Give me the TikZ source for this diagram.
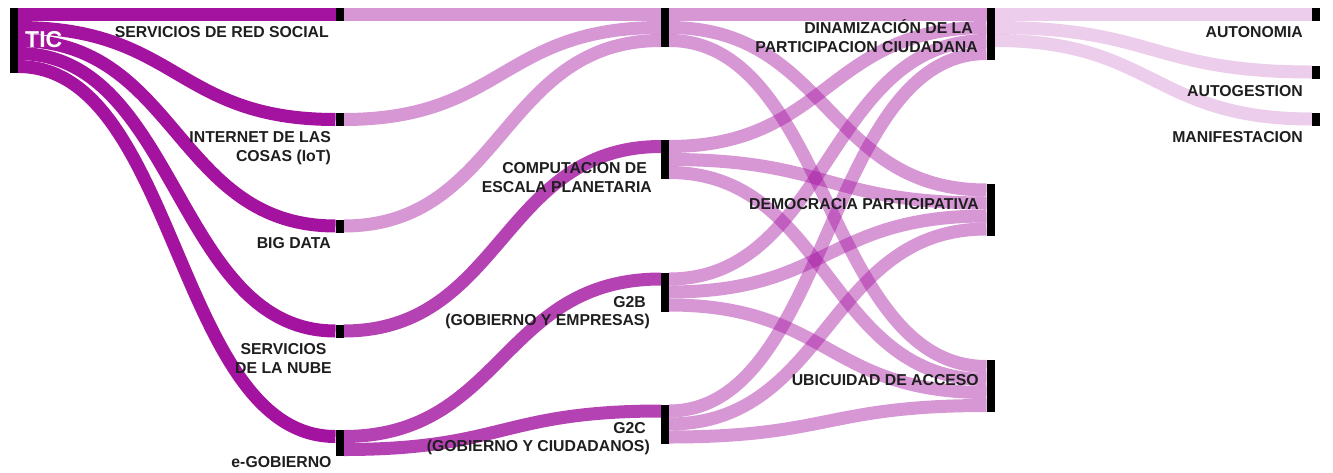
\documentclass[tikz,border=0pt]{standalone}
\usepackage{fontspec}
\setmainfont{Liberation Sans}
\usetikzlibrary{calc}
\definecolor{flowc}{RGB}{163,19,160}
\definecolor{txt}{RGB}{30,30,30}
\tikzset{
 bar/.style={rectangle, fill=black, draw=none, minimum width=8pt, inner sep=0pt, outer sep=0pt, anchor=north west},
 band/.style={line width=13pt, draw=flowc},
 dark/.style={band},
 mid/.style={band, draw opacity=0.8},
 light/.style={band, draw opacity=0.44},
 pale/.style={band, draw opacity=0.21},
 lbl/.style={font=\fontsize{15.8}{18}\selectfont\bfseries, text=txt, inner sep=0pt, anchor=base east},
 lblc/.style={lbl, anchor=base},
}
\newcommand\flowband[5]{\draw[#1] ($(#2.north east)+(0,#3)$) .. controls +(160,0) and +(-160,0) .. ($(#4.north west)+(0,#5)$);}
\begin{document}
\begin{tikzpicture}[x=1pt,y=-1pt]
\useasboundingbox (0,0) rectangle (1333,472);
% bars
\node[bar, minimum height=65pt] (TIC) at (10,8) {};
\node[bar, minimum height=13pt] (RS) at (335.5,8) {};
\node[bar, minimum height=13pt] (IOT) at (335.5,113) {};
\node[bar, minimum height=13pt] (BD) at (335.5,219.5) {};
\node[bar, minimum height=13pt] (NUBE) at (335.5,324.5) {};
\node[bar, minimum height=26pt] (EGOB) at (335.5,430) {};
\node[bar, minimum height=39pt] (T) at (661,8) {};
\node[bar, minimum height=39pt] (COMP) at (661,140) {};
\node[bar, minimum height=39pt] (G2B) at (661,272.5) {};
\node[bar, minimum height=39pt] (G2C) at (661,404.5) {};
\node[bar, minimum height=52pt] (DIN) at (986.5,8) {};
\node[bar, minimum height=52pt] (DEMO) at (986.5,183.5) {};
\node[bar, minimum height=52pt] (UBIC) at (986.5,360) {};
\node[bar, minimum height=13pt] (AUTO) at (1312,8) {};
\node[bar, minimum height=13pt] (AUTOG) at (1312,65.5) {};
\node[bar, minimum height=13pt] (MANIF) at (1312,112.5) {};
% flows
\flowband{dark}{TIC}{6.5}{RS}{6.5}
\flowband{dark}{TIC}{19.5}{IOT}{6.5}
\flowband{dark}{TIC}{32.5}{BD}{6.5}
\flowband{dark}{TIC}{45.5}{NUBE}{6.5}
\flowband{dark}{TIC}{58.5}{EGOB}{6.5}
\flowband{light}{RS}{6.5}{T}{6.5}
\flowband{light}{IOT}{6.5}{T}{19.5}
\flowband{light}{BD}{6.5}{T}{32.5}
\flowband{mid}{NUBE}{6.5}{COMP}{6.5}
\flowband{mid}{EGOB}{6.5}{G2B}{6.5}
\flowband{mid}{EGOB}{19.5}{G2C}{6.5}
\flowband{light}{T}{6.5}{DIN}{6.5}
\flowband{light}{T}{19.5}{DEMO}{6.5}
\flowband{light}{T}{32.5}{UBIC}{6.5}
\flowband{light}{COMP}{6.5}{DIN}{19.5}
\flowband{light}{COMP}{19.5}{DEMO}{19.5}
\flowband{light}{COMP}{32.5}{UBIC}{19.5}
\flowband{light}{G2B}{6.5}{DIN}{32.5}
\flowband{light}{G2B}{19.5}{DEMO}{32.5}
\flowband{light}{G2B}{32.5}{UBIC}{32.5}
\flowband{light}{G2C}{6.5}{DIN}{45.5}
\flowband{light}{G2C}{19.5}{DEMO}{45.5}
\flowband{light}{G2C}{32.5}{UBIC}{45.5}
\flowband{pale}{DIN}{6.5}{AUTO}{6.5}
\flowband{pale}{DIN}{19.5}{AUTOG}{6.5}
\flowband{pale}{DIN}{32.5}{MANIF}{6.5}
% redraw bars on top
\foreach \n in {TIC,RS,IOT,BD,NUBE,EGOB,T,COMP,G2B,G2C,DIN,DEMO,UBIC,AUTO,AUTOG,MANIF}
  \fill[black] (\n.north west) rectangle (\n.south east);
% labels
\node[font=\fontsize{23}{26}\selectfont\bfseries, text=white, inner sep=0pt, anchor=base west] (lTIC) at (25,47.5) {TIC};
\node[lbl] (lRS) at (329,37.3) {SERVICIOS DE RED SOCIAL};
\node[lbl] (lIoT1) at (331,142) {INTERNET DE LAS};
\node[lbl] (lIoT2) at (331,161) {COSAS (IoT)};
\node[lbl] (lBD) at (331,248) {BIG DATA};
\node[lblc] (lNU1) at (283.5,354) {SERVICIOS};
\node[lblc] (lNU2) at (283.5,373) {DE LA NUBE};
\node[lblc] (lEG) at (281.5,467.5) {e-GOBIERNO};
\node[lbl] (lCO1) at (647,173) {COMPUTACION DE};
\node[lbl] (lCO2) at (652,192) {ESCALA PLANETARIA};
\node[lbl] (lG2B1) at (646,307) {G2B};
\node[lbl] (lG2B2) at (650,325) {(GOBIERNO Y EMPRESAS)};
\node[lbl] (lG2C1) at (646,433) {G2C};
\node[lbl] (lG2C2) at (650,451) {(GOBIERNO Y CIUDADANOS)};
\node[lbl] (lDI1) at (973,33) {DINAMIZACIÓN DE LA};
\node[lbl] (lDI2) at (978,52) {PARTICIPACION CIUDADANA};
\node[lbl] (lDE) at (979,209) {DEMOCRACIA PARTICIPATIVA};
\node[lbl] (lUB) at (979,385) {UBICUIDAD DE ACCESO};
\node[lbl] (lA1) at (1303,37) {AUTONOMIA};
\node[lbl] (lA2) at (1303,96) {AUTOGESTION};
\node[lbl] (lA3) at (1303,142.5) {MANIFESTACION};
\end{tikzpicture}
\end{document}
